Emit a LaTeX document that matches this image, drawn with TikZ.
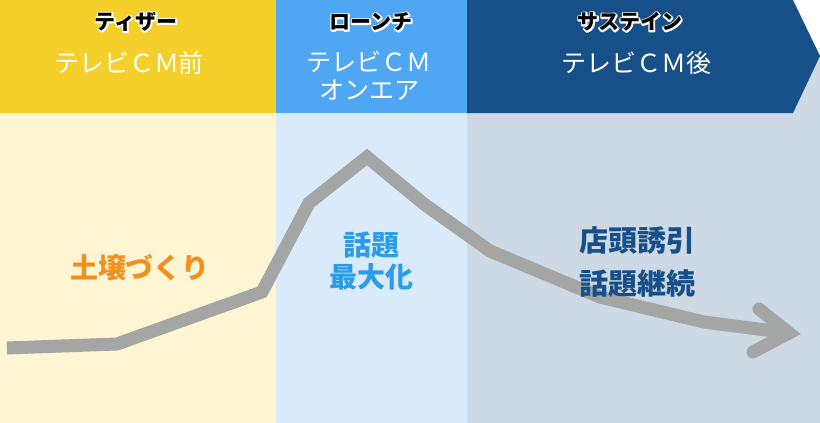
\documentclass[tikz,border=0pt]{standalone}
\usepackage{fontspec}
\setmainfont{Noto Sans CJK JP}
\definecolor{teaseryellow}{HTML}{F5D02B}
\definecolor{launchblue}{HTML}{4FA7F4}
\definecolor{sustainblue}{HTML}{175088}
\definecolor{teaserbg}{HTML}{FEF5D3}
\definecolor{launchbg}{HTML}{D9EBFB}
\definecolor{sustainbg}{HTML}{CDD9E5}
\definecolor{trendgray}{HTML}{A4A6A5}
\definecolor{soilorange}{HTML}{F0911F}
\definecolor{buzzblue}{HTML}{2B9CE8}
% white rim under black text: stroked copy, then filled copy
\newcommand{\rimtext}[1]{%
  \rlap{\special{pdf:literal direct 1 1 1 RG 3 w 1 j 1 Tr}#1%
    \special{pdf:literal direct 0 Tr}}#1}
\tikzstyle{phase}=[inner sep=0pt, font=\bfseries\fontsize{21}{21}\selectfont]
\tikzstyle{title}=[inner sep=0pt, white, align=center,
  font=\fontsize{25}{28}\selectfont]
\tikzstyle{goal}=[inner sep=0pt, align=center, font=\bfseries\fontsize{28}{32}\selectfont]
\tikzstyle{trend}=[draw=trendgray, line width=13pt, line join=miter]
\tikzstyle{tip}=[trend, line cap=round]

\begin{document}
\begin{tikzpicture}[x=1pt, y=-1pt]
  \useasboundingbox (0,0) rectangle (820,423);
  % backgrounds
  \fill[teaserbg]  (0,113)   rectangle (276,423);
  \fill[launchbg]  (276,113) rectangle (467,423);
  \fill[sustainbg] (467,56)  rectangle (820,423);
  \fill[teaseryellow] (0,0)   rectangle (276,113);
  \fill[launchblue]   (276,0) rectangle (467,113);
  \fill[sustainblue]  (467,0) -- (793,0) -- (820,56) -- (793,113) -- (467,113) -- cycle;

  % headers
  \node[phase] (teaser)  at (136,22) {\rimtext{ティザー}};
  \node[phase] (launch)  at (371,22) {\rimtext{ローンチ}};
  \node[phase] (sustain) at (630,22) {\rimtext{サステイン}};
  \node[title] (before) at (129,63) {テレビＣＭ前};
  \node[title] (onair)  at (369,76) {テレビＣＭ\\オンエア};
  \node[title] (after)  at (636,63) {テレビＣＭ後};

  % trend line
  \coordinate (p1) at (7,348);
  \coordinate (p2) at (117,344);
  \coordinate (p3) at (262,292);
  \coordinate (p4) at (309,203);
  \coordinate (p5) at (367,157);
  \coordinate (p6) at (424,204);
  \coordinate (p7) at (490,251);
  \coordinate (p8) at (600,297);
  \coordinate (p9) at (704,322);
  \coordinate (p10) at (789,333);
  \coordinate (h1) at (759,309);
  \coordinate (h2) at (753,352);
  \draw[trend] (p1) -- (p2) -- (p3) -- (p4) -- (p5) -- (p6) -- (p7) --
    (p8) -- (p9) -- (p10);
  \draw[tip] (h1) -- (p10) -- (h2);

  % goals
  \node[goal, soilorange] (soil) at (140,268) {土壌づくり};
  \node[goal, buzzblue]   (buzz) at (371,261) {話題\\最大化};
  \node[goal, sustainblue, font=\bfseries\fontsize{29}{43}\selectfont]
    (store) at (637,262) {店頭誘引\\話題継続};
\end{tikzpicture}
\end{document}
